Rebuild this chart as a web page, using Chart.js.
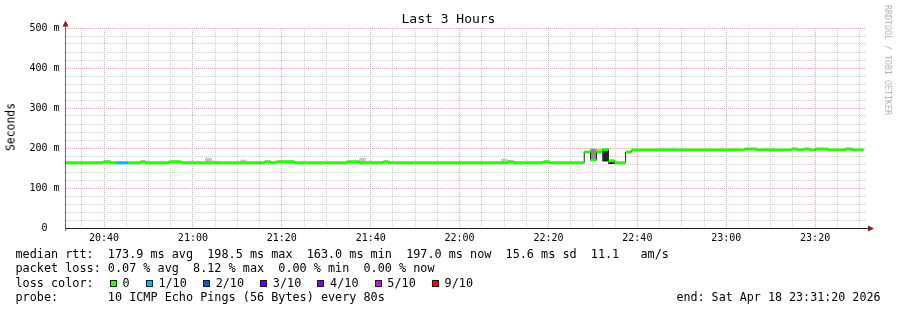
<!DOCTYPE html>
<html>
<head>
<meta charset="utf-8">
<script src="https://cdn.jsdelivr.net/npm/chart.js@4.4.1/dist/chart.umd.min.js"></script>
<style>
html,body{margin:0;padding:0;background:#fff;}
#wrap{position:relative;width:897px;height:310px;background:#fff;overflow:hidden;font-family:'DejaVu Sans Mono',monospace;}
#c{position:absolute;left:0;top:0;}
.t{position:absolute;white-space:pre;color:#000;}
#title{left:0;width:897px;text-align:center;top:11px;font-size:13px;line-height:15px;}
#ytitle{left:11px;top:127px;font-size:11.4px;line-height:13px;transform:translate(-50%,-50%) rotate(-90deg);}
.leg{left:15.5px;font-size:11.8px;line-height:14px;}
#endtxt{right:16.5px;font-size:11.7px;line-height:14px;}
.box{display:inline-block;width:7px;height:7px;box-sizing:border-box;border:1px solid #1a1a1a;margin-left:2px;margin-right:calc(1ch - 8.6px);vertical-align:0px;}
#wm{left:883px;top:5px;writing-mode:vertical-rl;font-size:8.3px;line-height:9px;color:#b4b4b4;}
</style>
</head>
<body>
<div id="wrap">
<canvas id="c" width="897" height="310"></canvas>
<div id="title" class="t"></div>
<div id="ytitle" class="t"></div>
<div id="l1" class="t leg" style="top:247px"></div>
<div id="l2" class="t leg" style="top:261px"></div>
<div id="l3" class="t leg" style="top:275.5px"></div>
<div id="l4" class="t leg" style="top:289.5px"></div>
<div id="endtxt" class="t" style="top:289.5px"></div>
<div id="wm" class="t"></div>
</div>
<script>
// ---------------- DATA ----------------
const chartTitle = 'Last 3 Hours';
const yAxisTitle = 'Seconds';
const viewStart = '20:31:20';
const viewEnd   = '23:31:20';
const yMaxMs = 500;
const yTickValues = [0, 100, 200, 300, 400, 500];
const yTickLabels = ['0', '100 m', '200 m', '300 m', '400 m', '500 m'];
const xTickLabels = ['20:40', '21:00', '21:20', '21:40', '22:00', '22:20', '22:40', '23:00', '23:20'];

// median rtt: step boundaries (n+1), value per step in ms (n), lost pings of 10 per step (n)
const medianTimes = ['20:31:20','20:39:54','20:41:30','20:42:48','20:45:30','20:48:12','20:49:18','20:54:42',
  '20:57:24','21:16:06','21:17:30','21:18:48','21:22:54','21:34:48','21:37:30','21:42:54','21:44:00',
  '22:10:48','22:12:06','22:18:54','22:20:12','22:28:03','22:29:28','22:30:49','22:32:10','22:33:31',
  '22:34:52','22:37:21','22:38:42','23:04:07','23:06:50','23:14:42','23:16:03','23:17:24','23:18:45',
  '23:20:06','23:22:48','23:26:51','23:28:12','23:30:54'];
const medianMs = [163,165.5,163,163,163,165.5,163,165.5,163,165.5,163,165.5,163,165.5,163,165.5,163,
  165.5,163,165.5,163,190,170,190,196,168,163,190,195,197.5,195,197.5,195,197.5,195,197.5,195,197.5,195];
const medianLoss = [0,0,0,1,0,0,0,0,0,0,0,0,0,0,0,0,0,0,0,0,0,0,0,0,0,0,0,0,0,0,0,0,0,0,0,0,0,0,0];

// smoke (ping spread) per 80 s sample: sample start, lowest and highest ping (ms), density class
const smokeTimes = ['21:02:50','21:04:11','21:10:42','21:37:30','21:38:51','21:40:12','22:09:24','22:10:48',
  '22:29:28','22:30:49','22:32:10','22:33:31','22:45:12','22:46:33','22:47:54','23:01:24','23:08:12',
  '23:09:33','23:27:58','23:29:19'];
const smokeLow  = [163,163,163,163,163,163,163,163,170,190,167,161,195,195,195,195,195,195,195,195];
const smokeHigh = [175,168,170,175,167.5,167.5,172.5,167.5,197.5,197.5,196,168,199.5,199.5,199.5,199.5,199.5,199.5,199.5,199.5];
const smokeDensity = [2,1,2,2,1,1,2,1,3,2,4,4,2,2,2,2,2,2,2,2];

const lossLabels = ['0', '1/10', '2/10', '3/10', '4/10', '5/10', '9/10'];
const lossColors = ['#26ff00', '#00b8ff', '#0059ff', '#5e00ff', '#7e00ff', '#dd00ff', '#ff0000'];
const rttStats  = ['173.9 ms avg', '198.5 ms max', '163.0 ms min', '197.0 ms now', '15.6 ms sd', '11.1   am/s'];
const lossStats = ['0.07 % avg', '8.12 % max', '0.00 % min', '0.00 % now'];
const probeText = '10 ICMP Echo Pings (56 Bytes) every 80s';
const endText = 'end: Sat Apr 18 23:31:20 2026';
const watermark = 'RRDTOOL / TOBI OETIKER';
const sampleSeconds = 80;

// ---------------- HELPERS ----------------
const toMin = s => { const [h, m, sec] = s.split(':').map(Number); return h * 60 + m + (sec || 0) / 60 - 20 * 60; };
const fmtHM = v => { const t = Math.round(v) + 20 * 60; const h = Math.floor(t / 60) % 24, m = t % 60; return String(h).padStart(2,'0') + ':' + String(m).padStart(2,'0'); };
const lossIndex = l => l <= 5 ? l : 6;
const smokeShades = {1: '#dadada', 2: '#c6c6c6', 3: '#8a8a8a', 4: '#262626'};

const X0 = toMin(viewStart), X1 = toMin(viewEnd);
const PLOT_LEFT = 65.5, PLOT_RIGHT = 865.5, PLOT_TOP = 28, PLOT_BOTTOM = 228;
const barPx = (sampleSeconds / 60) * (PLOT_RIGHT - PLOT_LEFT) / (X1 - X0);

// median horizontal segments (broken between steps)
const medianSegData = [];
medianMs.forEach((v, i) => {
  const a = toMin(medianTimes[i]), b = toMin(medianTimes[i + 1]);
  medianSegData.push({x: a, y: v}, {x: b, y: v}, {x: b, y: null});
});
// thin connecting stepped line
const medianStepData = medianMs.map((v, i) => ({x: toMin(medianTimes[i]), y: v}));
medianStepData.push({x: toMin(medianTimes[medianTimes.length - 1]), y: medianMs[medianMs.length - 1]});
// smoke bars
const smokeData = smokeTimes.map((t, i) => ({x: toMin(t) + sampleSeconds / 120, y: [smokeLow[i], smokeHigh[i]]}));

// ---------------- TEXT ----------------
document.getElementById('title').textContent = chartTitle;
document.getElementById('ytitle').textContent = yAxisTitle;
document.getElementById('l1').textContent = 'median rtt:  ' + rttStats.join('  ');
document.getElementById('l2').textContent = 'packet loss: ' + lossStats.join('  ');
const l3 = document.getElementById('l3');
l3.appendChild(document.createTextNode('loss color:  '));
lossLabels.forEach((lab, i) => {
  const b = document.createElement('span'); b.className = 'box'; b.style.background = lossColors[i];
  l3.appendChild(b);
  l3.appendChild(document.createTextNode(' ' + lab + (i < lossLabels.length - 1 ? '  ' : '')));
});
document.getElementById('l4').textContent = 'probe:       ' + probeText;
document.getElementById('endtxt').textContent = endText;
document.getElementById('wm').textContent = watermark;

// ---------------- AXES PLUGIN ----------------
const rrdAxes = {
  id: 'rrdAxes',
  afterDatasetsDraw(chart) {
    const {ctx, chartArea: a} = chart;
    ctx.save();
    ctx.lineWidth = 1;
    ctx.strokeStyle = '#666666';
    ctx.beginPath(); ctx.moveTo(a.left, a.bottom + 3); ctx.lineTo(a.left, a.top - 4); ctx.stroke();
    ctx.strokeStyle = '#1e1e1e';
    ctx.beginPath(); ctx.moveTo(a.left, a.bottom + 0.5); ctx.lineTo(a.right + 4, a.bottom + 0.5); ctx.stroke();
    ctx.fillStyle = '#8a1c1c';
    ctx.beginPath(); ctx.moveTo(a.left, a.top - 7.5); ctx.lineTo(a.left - 3, a.top - 1.5); ctx.lineTo(a.left + 3, a.top - 1.5); ctx.closePath(); ctx.fill();
    ctx.beginPath(); ctx.moveTo(a.right + 8.5, a.bottom + 0.5); ctx.lineTo(a.right + 2.5, a.bottom - 2.5); ctx.lineTo(a.right + 2.5, a.bottom + 3.5); ctx.closePath(); ctx.fill();
    ctx.restore();
  }
};

const MAJOR = '#f2a2a2', MINOR = '#cdcdcd';

new Chart(document.getElementById('c'), {
  type: 'line',
  data: {
    datasets: [
      {
        type: 'bar', label: 'smoke', data: smokeData, order: 3,
        backgroundColor: smokeDensity.map(d => smokeShades[d]),
        borderWidth: 0, borderSkipped: false, barThickness: barPx, grouped: false
      },
      {
        label: 'median step', data: medianStepData, order: 2, stepped: true,
        borderColor: '#202020', borderWidth: 1, pointRadius: 0, fill: false
      },
      {
        label: 'median rtt', data: medianSegData, order: 1, spanGaps: false,
        borderWidth: 3, pointRadius: 0, fill: false, borderColor: lossColors[0],
        segment: { borderColor: c => lossColors[lossIndex(medianLoss[Math.floor(c.p0DataIndex / 3)])] }
      }
    ]
  },
  options: {
    responsive: false, animation: false, devicePixelRatio: 1,
    layout: { padding: { left: 0, right: 897 - PLOT_RIGHT, top: PLOT_TOP, bottom: 0 } },
    plugins: { legend: { display: false }, tooltip: { enabled: false }, title: { display: false } },
    events: [],
    scales: {
      x: {
        type: 'linear', min: X0, max: X1, offset: false,
        afterFit: s => { s.height = 310 - PLOT_BOTTOM; },
        afterBuildTicks: s => {
          const t = [];
          for (let v = Math.ceil(X0 / 5) * 5; v <= X1; v += 5) t.push({value: v});
          s.ticks = t;
        },
        ticks: {
          autoSkip: false, maxRotation: 0, minRotation: 0, padding: 4, color: '#000',
          font: { family: 'DejaVu Sans Mono', size: 10 },
          callback: v => xTickLabels.includes(fmtHM(v)) ? fmtHM(v) : ''
        },
        grid: {
          offset: false, drawTicks: false, lineWidth: 1,
          color: c => (c.tick && xTickLabels.includes(fmtHM(c.tick.value))) ? MAJOR : MINOR
        },
        border: { display: false, dash: [1, 1] }
      },
      y: {
        type: 'linear', min: 0, max: yMaxMs,
        afterFit: s => { s.width = PLOT_LEFT; },
        afterBuildTicks: s => {
          const t = [];
          for (let v = 0; v <= yMaxMs; v += 20) t.push({value: v});
          s.ticks = t;
        },
        ticks: {
          autoSkip: false, padding: 6, color: '#000',
          font: { family: 'DejaVu Sans Mono', size: 10 },
          callback: v => {
            const i = yTickValues.indexOf(v);
            if (i < 0) return '';
            const lab = yTickLabels[i];
            return lab.includes(' ') ? lab : lab + '  ';
          }
        },
        grid: {
          offset: false, drawTicks: false, lineWidth: 1,
          color: c => (c.tick && yTickValues.includes(c.tick.value)) ? MAJOR : MINOR
        },
        border: { display: false, dash: [1, 1] }
      }
    }
  },
  plugins: [rrdAxes]
});
</script>
</body>
</html>
